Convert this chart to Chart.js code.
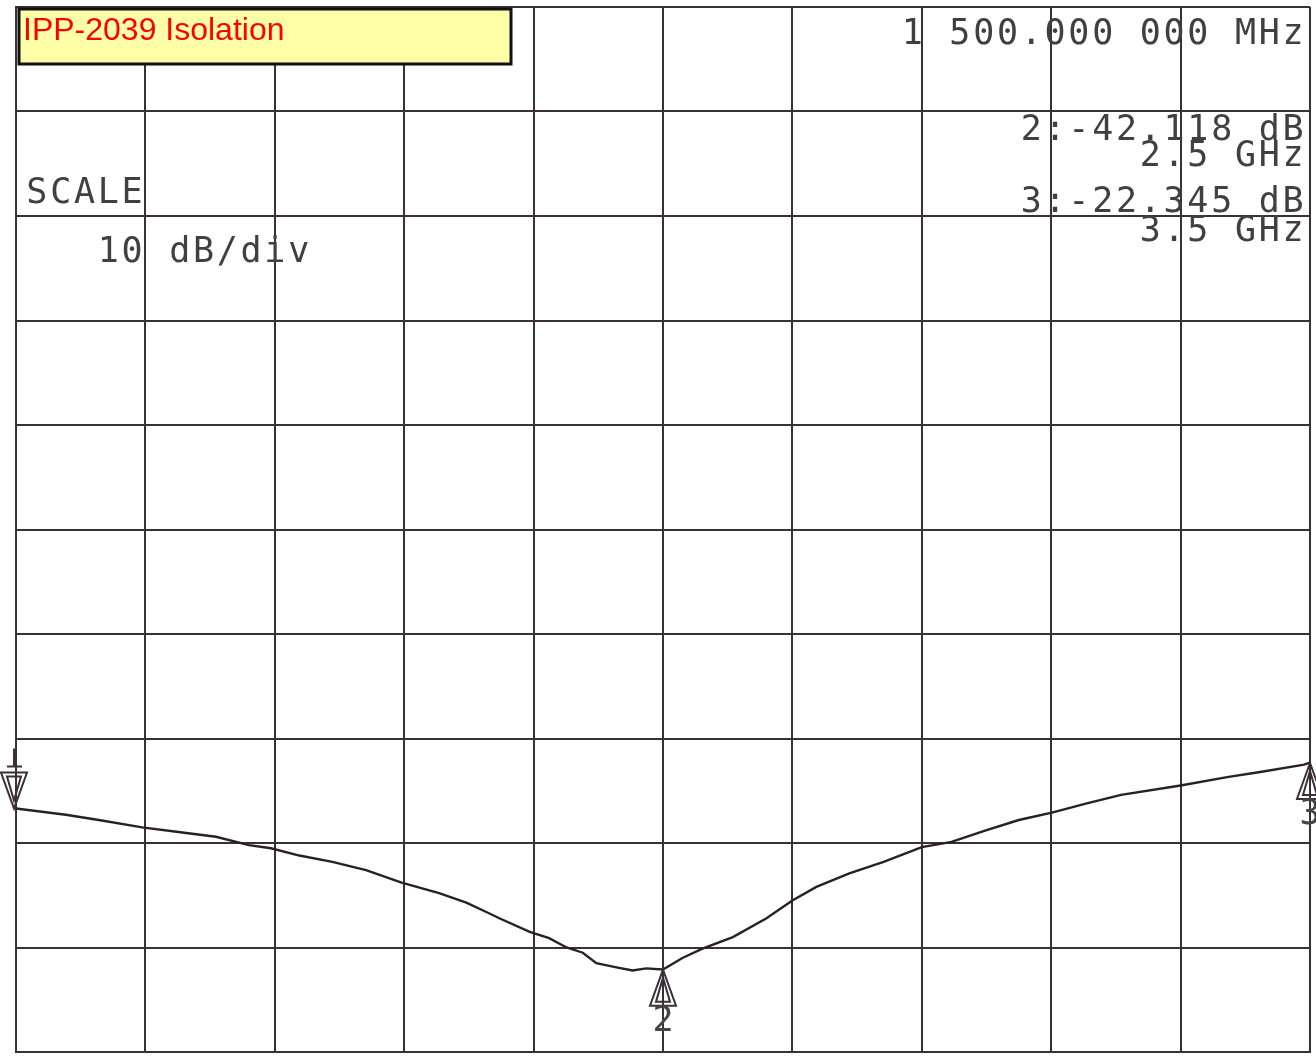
<!DOCTYPE html>
<html lang="en">
<head>
  <meta charset="UTF-8" />
  <title>IPP-2039 Isolation</title>
  <script src="https://cdn.jsdelivr.net/npm/chart.js"></script>
  <style>
    * { margin: 0; padding: 0; box-sizing: border-box; }
    body { background: #fff; width: 1316px; height: 1058px; overflow: hidden; }
    #wrap { width: 1316px; height: 1058px; }
  </style>
</head>
<body>
  <div id="wrap"><canvas id="plot" width="1316" height="1058"></canvas></div>

  <script>
    // trace (GHz, dB)
    const freqGHz = [
      1.500, 1.577, 1.628, 1.695, 1.757, 1.809, 1.860, 1.894, 1.938, 1.989,
      2.041, 2.096, 2.154, 2.196, 2.227, 2.247, 2.294, 2.324, 2.351, 2.376,
      2.397, 2.428, 2.453, 2.474, 2.500, 2.530, 2.561, 2.608, 2.660, 2.700,
      2.737, 2.788, 2.841, 2.900, 2.946, 2.999, 3.050, 3.101, 3.155, 3.208,
      3.300, 3.372, 3.423, 3.491, 3.500
    ];
    const isolationDb = [
      -26.7, -27.3, -27.8, -28.5, -29.0, -29.4, -30.2, -30.5, -31.2, -31.8,
      -32.6, -33.8, -34.8, -35.7, -36.6, -37.2, -38.5, -39.1, -40.0, -40.5,
      -41.5, -41.9, -42.2, -42.0, -42.1, -41.0, -40.1, -39.0, -37.2, -35.5,
      -34.2, -32.9, -31.8, -30.4, -29.9, -28.8, -27.8, -27.1, -26.2, -25.4,
      -24.5, -23.7, -23.2, -22.5, -22.3
    ];

    // markers
    const markerFreq = [1.5, 2.5, 3.5];
    const markerDb = [-26.7, -42.118, -22.345];
    const markerNames = ['1', '2', '3'];

    // readout text (instrument font, right column is right-aligned)
    const readoutRight = ['1 500.000 000 MHz', '2:-42.118 dB', '2.5 GHz', '3:-22.345 dB', '3.5 GHz'];
    const readoutRightY = [35, 131, 157, 203, 232];
    const readoutLeft = ['SCALE', '   10 dB/div'];
    const readoutLeftY = [194, 253];

    const title = 'IPP-2039 Isolation';

    const ink = '#3a3035';
    const pitch = 23.8;
    const monoFont = '35px "DejaVu Sans Mono", monospace';

    function monoText(ctx, str, x0, yMid) {
      ctx.font = monoFont;
      ctx.textAlign = 'center';
      ctx.textBaseline = 'middle';
      for (let i = 0; i < str.length; i++) {
        if (str[i] !== ' ') ctx.fillText(str[i], x0 + pitch * i + pitch / 2, yMid);
      }
    }

    function triangle(ctx, x, apexY, baseY, half) {
      ctx.beginPath();
      ctx.moveTo(x, apexY);
      ctx.lineTo(x - half, baseY);
      ctx.lineTo(x + half, baseY);
      ctx.closePath();
      ctx.stroke();
    }

    const overlay = {
      id: 'overlay',
      afterDatasetsDraw(chart) {
        const ctx = chart.ctx;
        const xs = chart.scales.x, ys = chart.scales.y;
        ctx.save();
        ctx.strokeStyle = ink;

        // marker symbols
        ctx.lineWidth = 2;
        markerFreq.forEach((f, i) => {
          const px = xs.getPixelForValue(f) - (i === 0 ? 2 : 0);
          const py = ys.getPixelForValue(markerDb[i]);
          if (i === 0) {
            triangle(ctx, px, py, py - 36, 13);
            triangle(ctx, px, py - 8, py - 32, 7);
            ctx.beginPath();
            ctx.moveTo(px - 7, py - 42); ctx.lineTo(px + 8, py - 42);
            ctx.moveTo(px, py - 42); ctx.lineTo(px, py - 60);
            ctx.stroke();
          } else {
            triangle(ctx, px, py, py + 36, 13);
            triangle(ctx, px, py + 8, py + 32, 7);
            ctx.fillStyle = '#444';
            monoText(ctx, markerNames[i], px - pitch / 2, py + 52);
          }
        });

        // readouts
        ctx.fillStyle = '#404040';
        readoutRight.forEach((s, i) => {
          monoText(ctx, s, 1305 - s.length * pitch, readoutRightY[i]);
        });
        readoutLeft.forEach((s, i) => {
          monoText(ctx, s, 25, readoutLeftY[i]);
        });

        // title box
        ctx.fillStyle = '#ffffa8';
        ctx.fillRect(19, 9, 492, 55);
        ctx.lineWidth = 3;
        ctx.strokeStyle = '#111';
        ctx.strokeRect(19, 9, 492, 55);
        ctx.fillStyle = '#ff0000';
        ctx.font = '32px "Liberation Sans", Arial, sans-serif';
        ctx.textAlign = 'left';
        ctx.textBaseline = 'alphabetic';
        ctx.fillText(title, 23, 40);
        ctx.restore();
      }
    };

    new Chart(document.getElementById('plot'), {
      type: 'line',
      data: {
        datasets: [{
          data: freqGHz.map((f, i) => ({ x: f, y: isolationDb[i] })),
          borderColor: '#2a2024',
          borderWidth: 2.4,
          pointRadius: 0,
          tension: 0,
          fill: false
        }]
      },
      options: {
        responsive: false,
        animation: false,
        layout: { padding: { left: 16, top: 7, right: 6, bottom: 6 } },
        plugins: { legend: { display: false }, tooltip: { enabled: false } },
        scales: {
          x: {
            type: 'linear', min: 1.5, max: 3.5,
            ticks: { display: false, stepSize: 0.2 },
            grid: { color: ink, lineWidth: 2, drawTicks: false },
            border: { display: true, color: ink, width: 2 }
          },
          y: {
            min: -50, max: 50,
            ticks: { display: false, stepSize: 10 },
            grid: { color: ink, lineWidth: 2, drawTicks: false },
            border: { display: true, color: ink, width: 2 }
          }
        }
      },
      plugins: [overlay]
    });
  </script>
</body>
</html>
